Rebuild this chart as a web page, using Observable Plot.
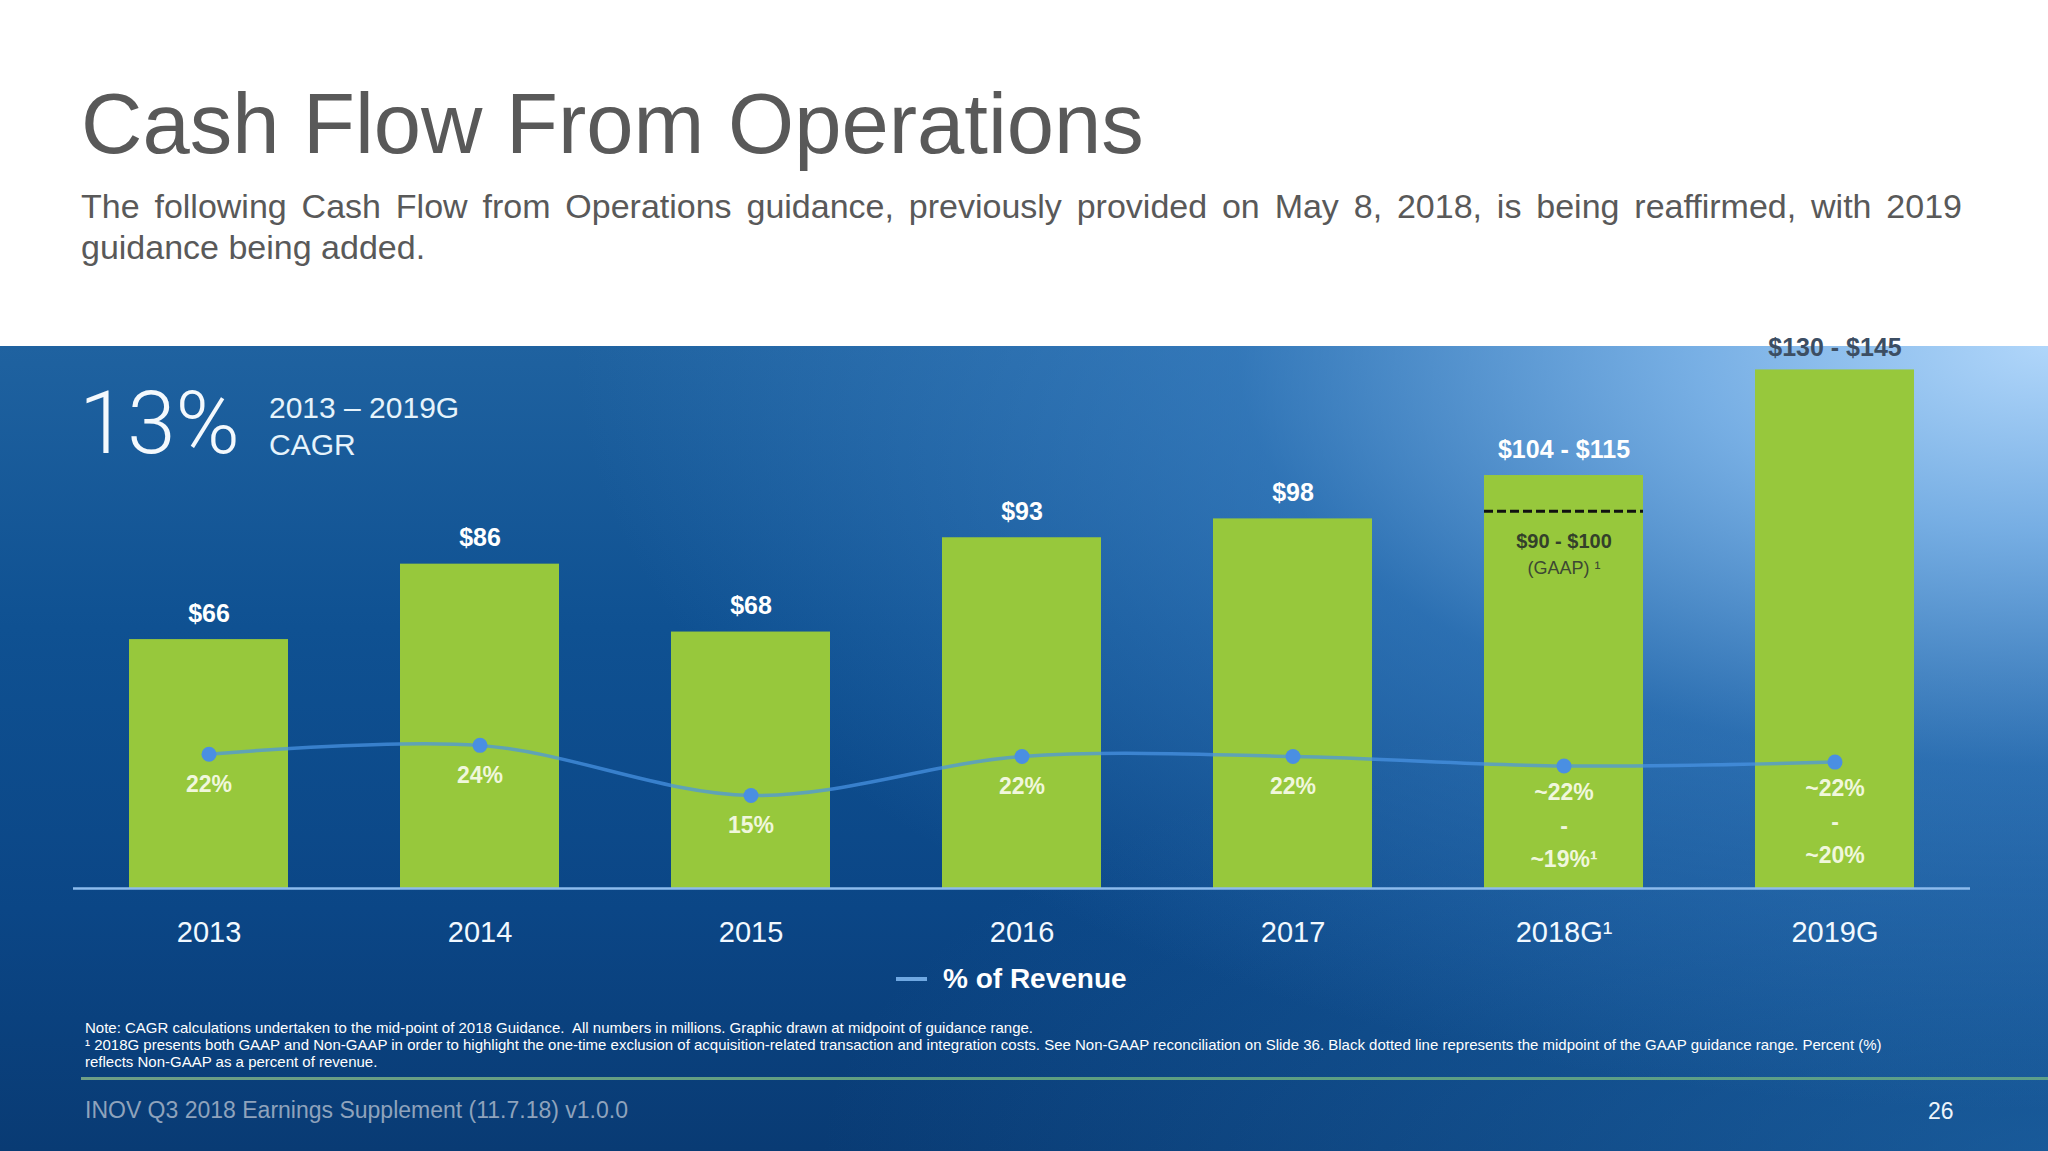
<!DOCTYPE html>
<html>
<head>
<meta charset="utf-8">
<script src="https://cdn.jsdelivr.net/npm/d3@7"></script>
<script src="https://cdn.jsdelivr.net/npm/@observablehq/plot@0.6"></script>
<style>
  html, body { margin: 0; padding: 0; background: #ffffff; }
  body { width: 2048px; height: 1151px; position: relative; overflow: hidden; font-family: "Liberation Sans", Arial, sans-serif; }
  .abs { position: absolute; white-space: nowrap; }
  #title { left: 81px; top: 81px; font-size: 85px; line-height: 85px; color: #595959; }
  #subtitle { left: 81px; top: 186px; width: 1881px; font-size: 34px; line-height: 41px; color: #595959; }
  #subtitle .l1 { text-align: justify; text-align-last: justify; white-space: nowrap; }
  #panel { left: 0; top: 346px; width: 2048px; height: 805px;
    background:
      radial-gradient(ellipse 72% 95% at 100% 0%, rgba(176,214,250,1) 0%, rgba(132,186,238,0.88) 24%, rgba(72,142,210,0.5) 55%, rgba(40,110,180,0) 100%),
      radial-gradient(ellipse 60% 60% at 100% 100%, rgba(40,120,190,0.5) 0%, rgba(40,120,190,0) 100%),
      linear-gradient(180deg, #1f62a0 0%, #0f5192 35%, #0b4686 70%, #093b74 100%);
  }
  #chart { left: 0; top: 346px; }
  #big { left: 79px; top: 380px; font-family: Roboto, "Liberation Sans", sans-serif; font-weight: 300; font-size: 87px; line-height: 87px; color: #f4f9fd; }
  #cagr { left: 269px; top: 389px; font-size: 30px; line-height: 37px; color: #e6f3fb; }
  #legend { left: 896px; top: 962px; font-size: 28px; line-height: 34px; font-weight: bold; color: #ffffff; display: flex; align-items: center; }
  #legend .sw { width: 31px; height: 4px; background: #6fa8e2; margin-right: 16px; }
  #note { left: 85px; top: 1019px; font-size: 15px; line-height: 17px; color: #ffffff; }
  #sep { left: 81px; top: 1077px; width: 1967px; height: 3px; background: linear-gradient(90deg, #6f9f86, #5f9f80 50%, #5d9f8a); }
  #footer { left: 85px; top: 1097px; font-size: 23px; line-height: 26px; color: #8fa3bc; }
  #page { left: 1928px; top: 1098px; font-size: 23px; line-height: 26px; color: #eef5fb; }
</style>
</head>
<body>
<div id="title" class="abs">Cash Flow From Operations</div>
<div id="subtitle" class="abs"><div class="l1">The following Cash Flow from Operations guidance, previously provided on May 8, 2018, is being reaffirmed, with 2019</div><div>guidance being added.</div></div>
<div id="panel" class="abs"></div>
<div id="chart" class="abs"></div>
<div id="big" class="abs">13%</div>
<div id="cagr" class="abs">2013 – 2019G<br>CAGR</div>
<div id="legend" class="abs"><span class="sw"></span><span>% of Revenue</span></div>
<div id="note" class="abs">Note: CAGR calculations undertaken to the mid-point of 2018 Guidance.&nbsp; All numbers in millions. Graphic drawn at midpoint of guidance range.<br>¹ 2018G presents both GAAP and Non-GAAP in order to highlight the one-time exclusion of acquisition-related transaction and integration costs. See Non-GAAP reconciliation on Slide 36. Black dotted line represents the midpoint of the GAAP guidance range. Percent (%)<br>reflects Non-GAAP as a percent of revenue.</div>
<div id="sep" class="abs"></div>
<div id="footer" class="abs">INOV Q3 2018 Earnings Supplement (11.7.18) v1.0.0</div>
<div id="page" class="abs">26</div>
<script>
// ---- data ----
const years = ["2013", "2014", "2015", "2016", "2017", "2018G", "2019G"];
const xTickLabels = ["2013", "2014", "2015", "2016", "2017", "2018G¹", "2019G"];
// cash flow from operations ($M); guidance years drawn at midpoint of range
const cashFlow = [66, 86, 68, 93, 98, 109.5, 137.5];
const cashLabels = ["$66", "$86", "$68", "$93", "$98", "$104 - $115", "$130 - $145"];
// % of revenue (guidance years drawn at midpoint)
const revenuePct = [22.4, 24, 15, 22, 22, 20.3, 21];
const pctLabels = ["22%", "24%", "15%", "22%", "22%", "~22%\n-\n~19%¹", "~22%\n-\n~20%"];
// GAAP marker for 2018G
const gaapYears = ["2018G"];
const gaapLine = [100];
const gaapLabels = ["$90 - $100"];
const gaapNotes = ["(GAAP) ¹"];

// ---- tables ----
const rows = years.map((year, i) => ({year, cash: cashFlow[i], label: cashLabels[i], pct: revenuePct[i], pctLabel: pctLabels[i]}));
const gaapRows = gaapYears.map((year, i) => ({year, value: gaapLine[i], label: gaapLabels[i], note: gaapNotes[i]}));
const tickFmt = d => xTickLabels[years.indexOf(d)];

// secondary axis: percent of revenue mapped onto the $ scale
const pctToY = d3.scaleLinear().domain([0, 24]).range([2.53, 37.95]);

const singleRows = rows.filter(d => !d.pctLabel.includes("\n"));
const multiRows = rows.filter(d => d.pctLabel.includes("\n"));

const chart = Plot.plot({
  width: 2048,
  height: 614,
  marginTop: 14,
  marginBottom: 72,
  marginLeft: 16,
  marginRight: 21,
  x: {domain: years, padding: 0.414, axis: null, label: null},
  y: {domain: [0, 140], axis: null},
  style: {background: "transparent", color: "#ffffff", fontFamily: "'Liberation Sans', Arial, sans-serif", overflow: "visible"},
  marks: [
    Plot.barY(rows, {x: "year", y: "cash", fill: "#97c83c"}),
    Plot.ruleY([0], {stroke: "#8dbbec", strokeWidth: 2.5, insetLeft: 57, insetRight: 57}),
    Plot.tickY(gaapRows, {x: "year", y: "value", stroke: "#111111", strokeWidth: 3, strokeDasharray: "9,4"}),
    Plot.text(gaapRows, {x: "year", y: "value", text: "label", dy: 30, fontSize: 20, fontWeight: "bold", fill: "#33402a"}),
    Plot.text(gaapRows, {x: "year", y: "value", text: "note", dy: 57, fontSize: 18, fill: "#3d4833"}),
    Plot.line(rows, {x: "year", y: d => pctToY(d.pct), curve: "catmull-rom", stroke: "#4a94e4", strokeOpacity: 0.72, strokeWidth: 3.5}),
    Plot.dot(rows, {x: "year", y: d => pctToY(d.pct), r: 7.5, fill: "#4a8fe2"}),
    Plot.text(singleRows, {x: "year", y: d => pctToY(d.pct), text: "pctLabel", dy: 30, fontSize: 23, fontWeight: "bold", fill: "#f0f7dc"}),
    Plot.text(multiRows, {x: "year", y: d => pctToY(d.pct), text: "pctLabel", dy: 57, lineHeight: 1.45, fontSize: 23, fontWeight: "bold", fill: "#f0f7dc"}),
    Plot.text(rows.slice(0, 6), {x: "year", y: "cash", text: "label", dy: -26, fontSize: 25, fontWeight: "bold", fill: "#ffffff"}),
    Plot.text(rows.slice(6), {x: "year", y: "cash", text: "label", dy: -22, fontSize: 25, fontWeight: "bold", fill: "#3c4e63"}),
    Plot.axisX({tickSize: 0, tickPadding: 33, fontSize: 29, tickFormat: tickFmt, fill: "#f2f9ff", label: null})
  ]
});
document.getElementById("chart").appendChild(chart);
</script>
</body>
</html>
